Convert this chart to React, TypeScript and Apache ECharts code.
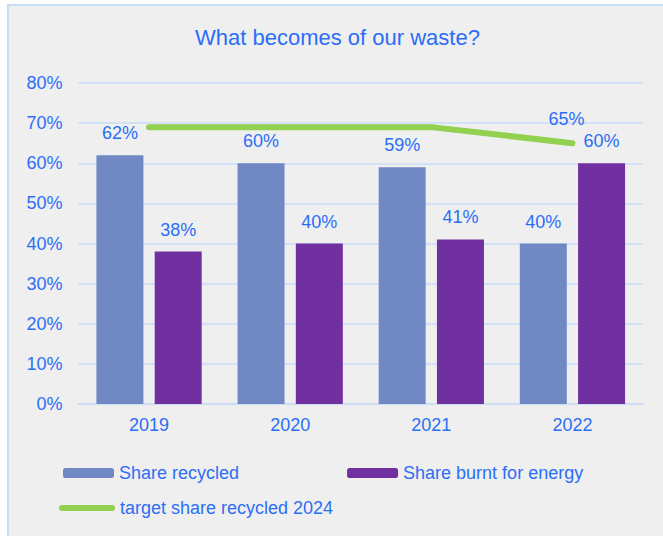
import React, { useEffect, useRef } from "react";
import * as echarts from "echarts";

const years = ["2019", "2020", "2021", "2022"];
const shareRecycled = [62, 60, 59, 40];
const shareBurnt = [38, 40, 41, 60];
const targetRecycled = [69, 69, 69, 65];

const BLUE_TEXT = "#2b6ef6";
const FONT = "'Liberation Sans', Arial, sans-serif";

export default function App() {
  const ref = useRef<HTMLDivElement>(null);
  useEffect(() => {
    if (!ref.current) return;
    const chart = echarts.init(ref.current, null, { renderer: "svg" });
    const targetData = targetRecycled.map((v, i) =>
      i === targetRecycled.length - 1
        ? { value: v, label: { show: true } }
        : { value: v }
    );
    chart.setOption({
      animation: false,
      backgroundColor: "#ffffff",
      textStyle: { fontFamily: FONT },
      graphic: [
        {
          type: "rect",
          z: -100,
          silent: true,
          shape: { x: 8, y: 5, width: 700, height: 600 },
          style: { fill: "#efefef", stroke: "#c9dcf7", lineWidth: 2 },
        },
      ],
      title: {
        text: "What becomes of our waste?",
        left: 195,
        top: 26,
        padding: 0,
        textStyle: {
          color: BLUE_TEXT,
          fontSize: 22,
          fontWeight: "normal",
          fontFamily: FONT,
        },
      },
      grid: { left: 78.5, right: 20, top: 83, bottom: 132, containLabel: false },
      legend: [
        {
          data: ["Share recycled", "Share burnt for energy"],
          left: 63,
          top: 464,
          padding: 0,
          itemWidth: 51,
          itemHeight: 10,
          itemGap: 108,
          textStyle: { color: BLUE_TEXT, fontSize: 18, fontFamily: FONT },
        },
        {
          data: [
            {
              name: "target share recycled 2024",
              icon: "path://M3,0 L54,0 A3,3 0 0 1 54,6 L3,6 A3,3 0 0 1 3,0 Z",
            },
          ],
          left: 59,
          top: 499,
          padding: 0,
          itemWidth: 56,
          itemHeight: 6,
          textStyle: { color: BLUE_TEXT, fontSize: 18, fontFamily: FONT },
        },
      ],
      xAxis: {
        type: "category",
        data: years,
        axisLine: { lineStyle: { color: "#cddcf5", width: 2 } },
        axisTick: { show: false },
        axisLabel: { color: BLUE_TEXT, fontSize: 18, margin: 12, fontFamily: FONT },
      },
      yAxis: {
        type: "value",
        min: 0,
        max: 80,
        interval: 10,
        axisLine: { show: false },
        axisTick: { show: false },
        axisLabel: {
          formatter: "{value}%",
          color: BLUE_TEXT,
          fontSize: 18,
          margin: 16,
          fontFamily: FONT,
        },
        splitLine: { lineStyle: { color: "#d3e1f7", width: 2 } },
      },
      series: [
        {
          name: "Share recycled",
          type: "bar",
          data: shareRecycled,
          barWidth: 47,
          barGap: "24%",
          itemStyle: { color: "#7089c4" },
          label: {
            show: true,
            position: "top",
            distance: 13,
            formatter: "{c}%",
            color: BLUE_TEXT,
            fontSize: 18,
            fontFamily: FONT,
          },
        },
        {
          name: "Share burnt for energy",
          type: "bar",
          data: shareBurnt,
          barWidth: 47,
          itemStyle: { color: "#7030a0" },
          label: {
            show: true,
            position: "top",
            distance: 13,
            formatter: "{c}%",
            color: BLUE_TEXT,
            fontSize: 18,
            fontFamily: FONT,
          },
        },
        {
          name: "target share recycled 2024",
          type: "line",
          data: targetData,
          symbol: "circle",
          symbolSize: 2,
          showSymbol: true,
          itemStyle: { color: "#92d050" },
          lineStyle: { color: "#92d050", width: 6, cap: "round", join: "round" },
          z: 5,
          label: {
            show: false,
            position: "top",
            distance: 14,
            offset: [-6, 0],
            formatter: "{c}%",
            color: BLUE_TEXT,
            fontSize: 18,
            fontFamily: FONT,
          },
        },
      ],
    });
    return () => chart.dispose();
  }, []);
  return (
    <div
      ref={ref}
      style={{ position: "absolute", left: 0, top: 0, width: 663, height: 536 }}
    />
  );
}
